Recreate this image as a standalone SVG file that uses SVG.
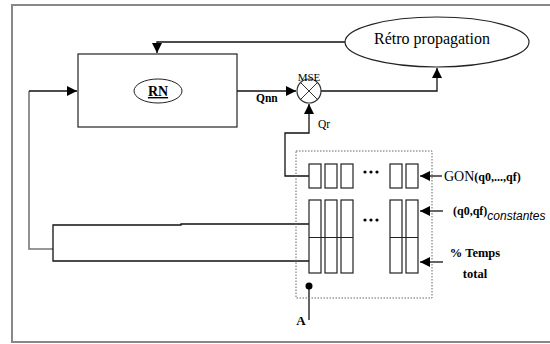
<svg xmlns="http://www.w3.org/2000/svg" width="550" height="344" viewBox="0 0 550 344">
<style>
.ln{fill:none;stroke:#111;stroke-width:1.3}
.gl{fill:none;stroke:#777;stroke-width:1.6}
.bx{fill:#fff;stroke:#222;stroke-width:1.2}
.t{font-family:"Liberation Serif",serif;fill:#000}
.b{font-weight:bold}
</style>
<defs>
<marker id="ah" viewBox="0 0 10 10" refX="10" refY="5" markerWidth="10" markerHeight="10" markerUnits="userSpaceOnUse" orient="auto">
<path d="M0,0 L10,5 L0,10 z" fill="#000"/>
</marker>
</defs>
<rect x="0" y="0" width="550" height="344" fill="#fff"/>
<path d="M551,5 H12 V342 H551" fill="none" stroke="#888" stroke-width="2"/>
<g id="connectors">
<path class="ln" d="M345,42 H157 V53" marker-end="url(#ah)"/>
<path class="ln" d="M237,91 H296" marker-end="url(#ah)"/>
<path class="ln" d="M321,91 H437 V68" marker-end="url(#ah)"/>
<path class="ln" d="M309,176 H285 V133 H309 V104" marker-end="url(#ah)"/>
<path class="gl" d="M53,249 H29 V91"/>
<path class="ln" d="M29,91 H77" marker-end="url(#ah)"/>
<path class="ln" d="M309,224 H181 V225 H53 V261 H309"/>
<path class="ln" d="M442,176 H420" marker-end="url(#ah)"/>
<path class="ln" d="M443,211 H420" marker-end="url(#ah)"/>
<path class="ln" d="M443,262 H420" marker-end="url(#ah)"/>
<path class="ln" d="M309,286 V320"/>
</g>
<g id="rn">
<rect class="bx" x="78" y="54" width="159" height="73"/>
<ellipse cx="158" cy="91" rx="24" ry="12" fill="none" stroke="#222" stroke-width="1"/>
<text class="t b" x="158" y="96" font-size="14" text-anchor="middle" text-decoration="underline">RN</text>
</g>
<g id="retro">
<ellipse cx="437" cy="42" rx="92" ry="25" fill="#fff" stroke="#222" stroke-width="1.2"/>
<text class="t" x="432" y="44" font-size="16" text-anchor="middle">Rétro propagation</text>
</g>
<g id="mse">
<circle cx="309" cy="91" r="12" fill="#fff" stroke="#333" stroke-width="1.2"/>
<path d="M300.5,82.5 L317.5,99.5 M317.5,82.5 L300.5,99.5" stroke="#333" stroke-width="1"/>
<text class="t" x="309" y="81" font-size="11" text-anchor="middle">MSE</text>
</g>
<g id="labels">
<text class="t b" x="256" y="102" font-size="11.5">Qnn</text>
<text class="t" x="318" y="128" font-size="11.5">Qr</text>
</g>
<g id="memory">
<rect x="296" y="151" width="136" height="147" fill="none" stroke="#666" stroke-width="1" stroke-dasharray="1.5,1.5"/>
<rect class="bx" x="309" y="164" width="12" height="24"/>
<rect class="bx" x="325" y="164" width="12" height="24"/>
<rect class="bx" x="341" y="164" width="12" height="24"/>
<rect class="bx" x="390" y="164" width="12" height="24"/>
<rect class="bx" x="406" y="164" width="12" height="24"/>
<rect class="bx" x="309" y="200" width="12" height="73"/>
<rect class="bx" x="325" y="200" width="12" height="73"/>
<rect class="bx" x="341" y="200" width="12" height="73"/>
<rect class="bx" x="390" y="200" width="12" height="73"/>
<rect class="bx" x="406" y="200" width="12" height="73"/>
<path d="M309,237.5 H353 M390,237.5 H418" stroke="#222" stroke-width="1"/>
<g fill="#000">
<circle cx="365" cy="172" r="1.6"/><circle cx="371" cy="172" r="1.6"/><circle cx="377" cy="172" r="1.6"/>
<circle cx="365" cy="220" r="1.6"/><circle cx="371" cy="220" r="1.6"/><circle cx="377" cy="220" r="1.6"/>
</g>
</g>
<g id="inputs">
<text class="t" x="444" y="181" font-size="14">GON<tspan class="b" font-size="12">(q0,...,qf)</tspan></text>
<text class="t b" x="453" y="215" font-size="12">(q0,qf)<tspan font-family="Liberation Sans,sans-serif" font-weight="normal" font-style="italic" font-size="12" dy="5">constantes</tspan></text>
<text class="t b" x="475" y="257" font-size="12.5" text-anchor="middle">% Temps</text>
<text class="t b" x="475" y="278" font-size="12.5" text-anchor="middle">total</text>
</g>
<g id="pointA">
<circle cx="309" cy="286" r="3.5" fill="#000"/>
<text class="t b" x="301" y="325" font-size="13" text-anchor="middle">A</text>
</g>
</svg>
